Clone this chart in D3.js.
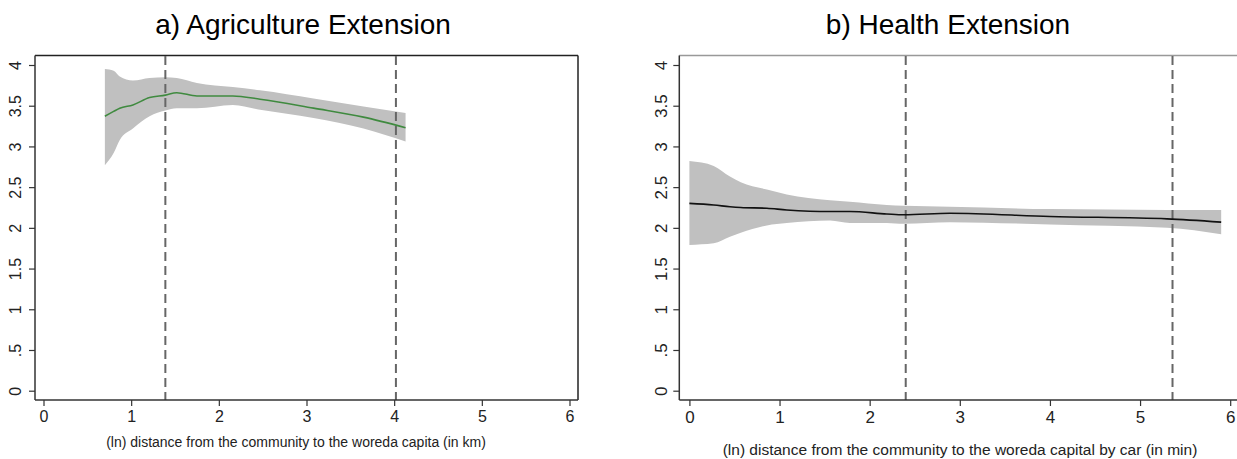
<!DOCTYPE html>
<html>
<head>
<meta charset="utf-8">
<script src="https://cdn.jsdelivr.net/npm/d3@7"></script>
<style>
  body { margin: 0; background: #fff; }
  svg { font-family: Arial, "Liberation Sans", sans-serif; }
  .title { font-size: 28px; fill: #000; }
</style>
</head>
<body>
<svg id="chart" width="1237" height="459"></svg>
<script>
// a) agriculture extension
var agriX     = [0.70, 0.80, 0.87, 1.02, 1.21, 1.39, 1.52, 1.75, 2.16, 2.47, 3.08, 3.65, 4.13];
var agriMean  = [3.37, 3.43, 3.47, 3.51, 3.60, 3.63, 3.66, 3.62, 3.62, 3.58, 3.47, 3.36, 3.23];
var agriUpper = [3.95, 3.93, 3.86, 3.81, 3.84, 3.85, 3.84, 3.78, 3.73, 3.69, 3.59, 3.49, 3.41];
var agriLower = [2.77, 2.92, 3.08, 3.22, 3.37, 3.44, 3.47, 3.47, 3.51, 3.45, 3.35, 3.22, 3.06];
var agriCuts  = [1.39, 4.02];

// b) health extension
var healthX     = [0.00, 0.27, 0.45, 0.57, 0.86, 1.08, 1.56, 1.78, 2.19, 2.38, 2.89, 4.00, 5.30, 5.90];
var healthMean  = [2.30, 2.28, 2.26, 2.25, 2.24, 2.22, 2.20, 2.20, 2.17, 2.16, 2.18, 2.14, 2.11, 2.07];
var healthUpper = [2.82, 2.76, 2.63, 2.56, 2.47, 2.41, 2.34, 2.32, 2.28, 2.27, 2.26, 2.23, 2.22, 2.22];
var healthLower = [1.79, 1.81, 1.89, 1.94, 2.03, 2.06, 2.09, 2.06, 2.06, 2.05, 2.07, 2.04, 2.00, 1.92];
var healthCuts  = [2.40, 5.36];

var yTicks = [0, 0.5, 1, 1.5, 2, 2.5, 3, 3.5, 4];
var yTickLabels = ["0", ".5", "1", "1.5", "2", "2.5", "3", "3.5", "4"];
var xTicks = [0, 1, 2, 3, 4, 5, 6];
var xTickLabels = ["0", "1", "2", "3", "4", "5", "6"];

var svg = d3.select("#chart");

var drawPanel = function(p)
{
    var g = svg.append("g");

    var xScale = d3.scaleLinear().domain([0, 6]).range([p.x0, p.x6]);
    var yScale = d3.scaleLinear().domain([0, 4]).range([390.7, 65]);

    var rows = p.xs.map(function(x, i){
        return {x: x, m: p.mean[i], hi: p.upper[i], lo: p.lower[i]};
    });

    // title
    g.append("text")
        .attr("class", "title")
        .attr("x", p.titleX)
        .attr("y", 34)
        .attr("text-anchor", "middle")
        .text(p.title);

    // frame (top / right)
    g.append("line")
        .attr("x1", p.left).attr("x2", p.right)
        .attr("y1", 55.5).attr("y2", 55.5)
        .attr("stroke", p.frameColor).attr("stroke-width", 1.5);
    if (p.showRight) {
        g.append("line")
            .attr("x1", p.right).attr("x2", p.right)
            .attr("y1", 55.5).attr("y2", 400)
            .attr("stroke", p.frameColor).attr("stroke-width", 1.5);
    }

    // confidence band
    var area = d3.area()
        .x(function(d){ return xScale(d.x); })
        .y0(function(d){ return yScale(d.lo); })
        .y1(function(d){ return yScale(d.hi); })
        .curve(d3.curveMonotoneX);
    g.append("path")
        .datum(rows)
        .attr("d", area)
        .attr("fill", "#c0c0c0");

    // cut-off lines
    g.selectAll(".cut")
        .data(p.cuts)
        .enter().append("line")
        .attr("class", "cut")
        .attr("x1", function(d){ return xScale(d); })
        .attr("x2", function(d){ return xScale(d); })
        .attr("y1", 56).attr("y2", 400)
        .attr("stroke", "#666")
        .attr("stroke-width", 2)
        .attr("stroke-dasharray", "9,5");

    // fitted line
    var line = d3.line()
        .x(function(d){ return xScale(d.x); })
        .y(function(d){ return yScale(d.m); })
        .curve(d3.curveMonotoneX);
    g.append("path")
        .datum(rows)
        .attr("d", line)
        .attr("fill", "none")
        .attr("stroke", p.lineColor)
        .attr("stroke-width", 1.6);

    // axes
    var yAxis = d3.axisLeft(yScale)
        .tickValues(yTicks)
        .tickFormat(function(d, i){ return yTickLabels[i]; })
        .tickSize(6)
        .tickSizeOuter(0);
    var ya = g.append("g")
        .attr("transform", "translate(" + p.left + ",0)")
        .call(yAxis);
    ya.attr("font-family", null);
    ya.select(".domain").attr("d", "M0,55.5V400").attr("stroke", "#333").attr("stroke-width", 1.5);
    ya.selectAll(".tick line").attr("stroke", "#333").attr("stroke-width", 1.2);
    ya.selectAll(".tick text")
        .attr("x", 0)
        .attr("fill", "#222")
        .style("font-size", p.tickSize)
        .attr("text-anchor", "middle")
        .attr("transform", "translate(-" + p.yLabelOff + ",0) rotate(-90)")
        .attr("dy", "0.35em");

    var xAxis = d3.axisBottom(xScale)
        .tickValues(xTicks)
        .tickFormat(function(d, i){ return xTickLabels[i]; })
        .tickSize(6)
        .tickSizeOuter(0);
    var xa = g.append("g")
        .attr("transform", "translate(0,400)")
        .call(xAxis);
    xa.attr("font-family", null);
    xa.select(".domain")
        .attr("d", "M" + p.left + ",0H" + p.right)
        .attr("stroke", "#333").attr("stroke-width", 1.5);
    xa.selectAll(".tick line").attr("stroke", "#333").attr("stroke-width", 1.2);
    xa.selectAll(".tick text")
        .attr("y", 11)
        .attr("fill", "#222")
        .style("font-size", p.tickSize);

    g.append("text")
        .attr("x", p.labelX)
        .attr("y", p.labelY)
        .attr("font-size", p.labelSize)
        .attr("fill", "#222")
        .attr("text-anchor", "middle")
        .text(p.label);
};

drawPanel({
    title: "a) Agriculture Extension", titleX: 303,
    left: 35, right: 578, x0: 43.5, x6: 569.5, showRight: true, frameColor: "#222",
    xs: agriX, mean: agriMean, upper: agriUpper, lower: agriLower, cuts: agriCuts,
    lineColor: "#3f8a3f", tickSize: "16px", yLabelOff: 20,
    label: "(ln) distance from the community to the woreda capita (in km)", labelX: 296, labelY: 447, labelSize: "14px"
});

drawPanel({
    title: "b) Health Extension", titleX: 948,
    left: 679.3, right: 1245, x0: 689.4, x6: 1230.2, showRight: false, frameColor: "#999",
    xs: healthX, mean: healthMean, upper: healthUpper, lower: healthLower, cuts: healthCuts,
    lineColor: "#111", tickSize: "17px", yLabelOff: 18,
    label: "(ln) distance from the community to the woreda capital by car (in min)", labelX: 960, labelY: 455, labelSize: "15.5px"
});
</script>
</body>
</html>
